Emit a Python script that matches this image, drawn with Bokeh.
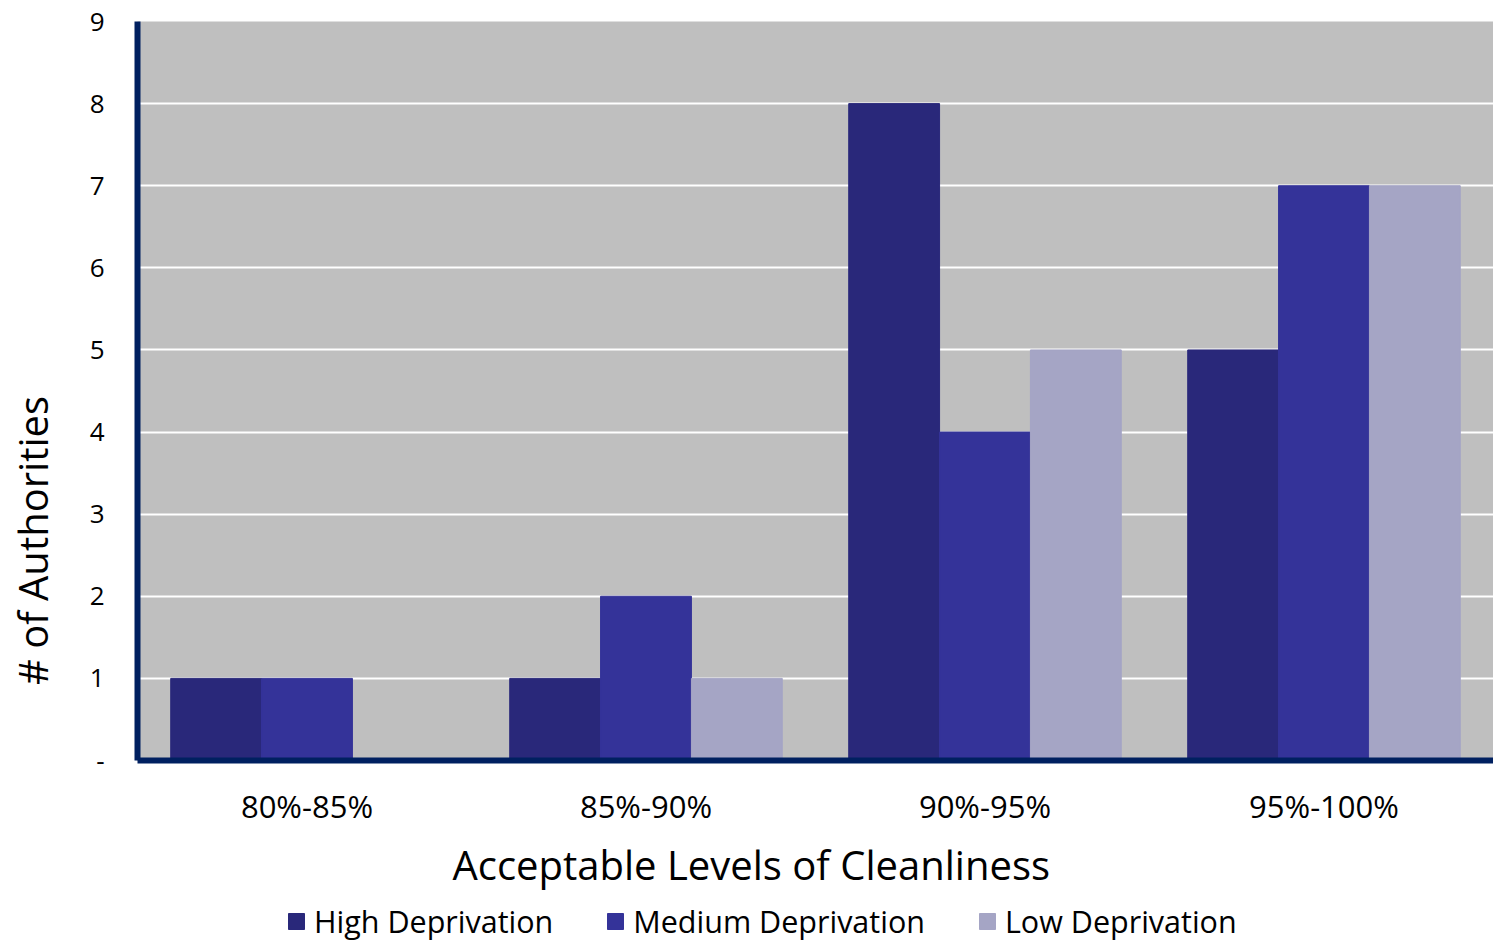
import math
from bokeh.plotting import figure
from bokeh.layouts import column, row
from bokeh.models import (ColumnDataSource, FactorRange, Legend, LegendItem, Title,
                          FixedTicker, Label)
from bokeh.transform import dodge
from bokeh.embed import file_html
from bokeh.resources import INLINE

# Number of local authorities per cleanliness band, by deprivation level
categories = ["80%-85%", "85%-90%", "90%-95%", "95%-100%"]
series_names = ["High Deprivation", "Medium Deprivation", "Low Deprivation"]
high = [1, 1, 8, 5]
medium = [1, 2, 4, 7]
low = [0, 1, 5, 7]
y_ticks = [0, 1, 2, 3, 4, 5, 6, 7, 8, 9]

FONT = "Open Sans"
NAVY = "#002060"
COLORS = ["#29287A", "#343399", "#A5A5C5"]
FIELDS = ["high", "medium", "low"]

source = ColumnDataSource(dict(cat=categories, high=high, medium=medium, low=low))

TOP, FRAME_H, BOTTOM = 21, 739, 135
LEGEND_H = 943 - (TOP + FRAME_H + BOTTOM)
TITLE_W = 70           # strip holding the vertical y-axis title
LEFT = 137 - TITLE_W   # room for the y tick labels

p = figure(
    x_range=FactorRange(*categories),
    y_range=(0, 9),
    frame_width=1356,
    frame_height=FRAME_H,
    output_backend="svg",
    toolbar_location=None,
    min_border_left=LEFT,
    min_border_right=0,
    min_border_top=TOP,
    min_border_bottom=BOTTOM,
)
p.background_fill_color = "#BFBFBF"
p.border_fill_color = "white"
p.outline_line_color = None

bw = 0.268
for field, offset, color in zip(FIELDS, [-bw, 0.0, bw], COLORS):
    p.vbar(x=dodge("cat", offset, range=p.x_range), top=field, width=bw, source=source,
           fill_color=color, line_color=color)

# grid
p.xgrid.grid_line_color = None
p.ygrid.grid_line_color = "white"
p.ygrid.grid_line_width = 2
p.ygrid.ticker = FixedTicker(ticks=y_ticks)

# y axis
yax = p.yaxis[0]
yax.ticker = FixedTicker(ticks=y_ticks)
yax.major_label_overrides = {0: "-"}
yax.axis_line_color = NAVY
yax.axis_line_width = 6
yax.major_tick_line_color = None
yax.minor_tick_line_color = None
yax.major_label_standoff = 27
yax.major_label_text_font = FONT
yax.major_label_text_font_size = "26px"
yax.major_label_text_color = "black"

# x axis
xax = p.xaxis[0]
xax.axis_line_color = NAVY
xax.axis_line_width = 6
xax.major_tick_line_color = None
xax.minor_tick_line_color = None
xax.major_label_standoff = 18
xax.major_label_text_font = FONT
xax.major_label_text_font_size = "31px"
xax.major_label_text_color = "black"

xtitle = Title(text="Acceptable Levels of Cleanliness", align="left", offset=315,
               text_font=FONT, text_font_size="40px", text_font_style="normal",
               text_color="black", standoff=10)
p.add_layout(xtitle, "below")

# vertical y-axis title in its own strip to the left
yt = figure(width=TITLE_W, frame_height=FRAME_H, output_backend="svg",
            toolbar_location=None, x_range=(0, 1), y_range=(0, 1),
            min_border_left=0, min_border_right=0,
            min_border_top=TOP, min_border_bottom=BOTTOM + LEGEND_H)
yt.axis.visible = False
yt.grid.visible = False
yt.outline_line_color = None
yt.background_fill_color = "white"
yt.add_layout(Label(x=32, y=220, x_units="screen", y_units="screen",
                    text="# of Authorities", angle=math.pi / 2,
                    text_align="center", text_baseline="middle",
                    text_font=FONT, text_font_size="40px", text_color="black"))

# legend strip underneath the chart
lg = figure(width=1493 - TITLE_W, height=LEGEND_H, output_backend="svg",
            toolbar_location=None, x_range=FactorRange(*categories), y_range=(0, 9),
            min_border=0, min_border_left=LEFT)
lg.axis.visible = False
lg.grid.visible = False
lg.outline_line_color = None
lg.background_fill_color = "white"
items = []
for name, field, color in zip(series_names, FIELDS, COLORS):
    r = lg.vbar(x="cat", top=field, width=bw, source=source,
                fill_color=color, line_color=color, visible=False)
    items.append(LegendItem(label=name, renderers=[r]))

legend = Legend(
    items=items,
    orientation="horizontal",
    location=(286 - 137, 2),
    label_text_font=FONT,
    label_text_font_size="30.5px",
    label_text_color="black",
    glyph_width=20,
    glyph_height=20,
    label_standoff=8,
    spacing=52,
    padding=0,
    margin=0,
    border_line_color=None,
    background_fill_alpha=0,
    inactive_fill_alpha=0,
    click_policy="none",
)
lg.add_layout(legend)

layout = row(yt, column(p, lg, spacing=0), spacing=0)
open("out.html", "w").write(file_html(layout, INLINE))
